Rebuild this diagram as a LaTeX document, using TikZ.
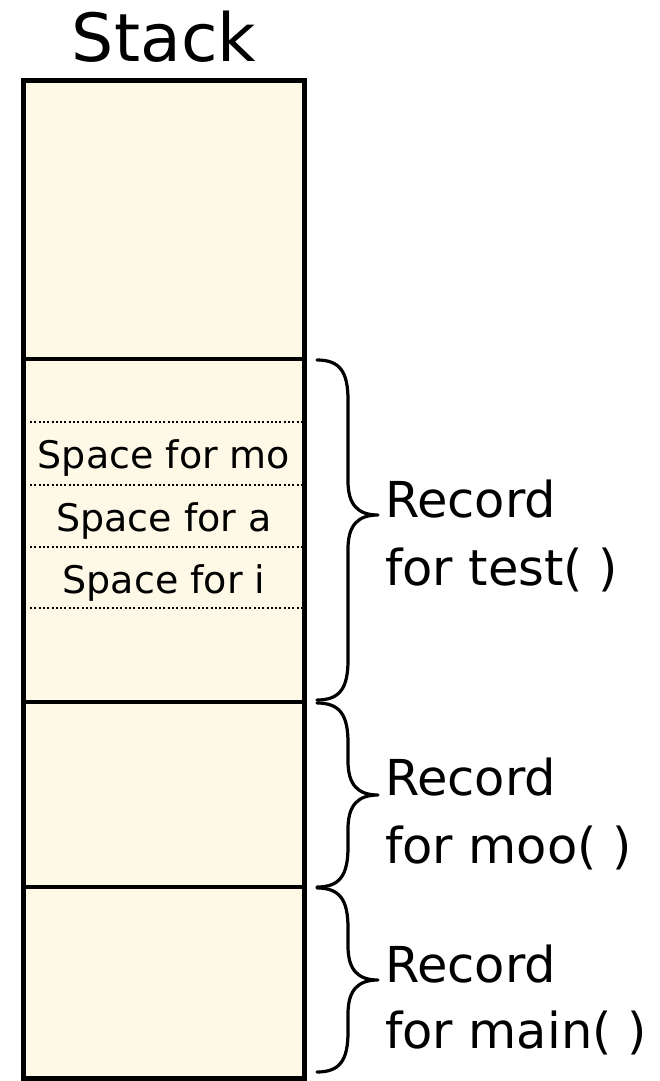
\documentclass[tikz,border=0pt]{standalone}
\usepackage{fontspec}
\setmainfont{DejaVu Sans}
\definecolor{stackfill}{RGB}{254,248,231}
\tikzset{
  lbl/.style={inner sep=0pt, outer sep=0pt, anchor=base west, font=\fontsize{49.5}{58}\selectfont},
  slot/.style={inner sep=0pt, outer sep=0pt, anchor=base, font=\fontsize{38}{46}\selectfont},
  divider/.style={line width=4.5pt},
  dotline/.style={line width=2.2pt, dash pattern=on 2pt off 2.3pt},
  bracestyle/.style={line width=3.2pt, line cap=round, line join=round}
}
\newcommand{\mybrace}[3]{% top, tip, bottom
  \draw[bracestyle] (317,#1) .. controls (340,#1) and (348,#1+12) .. (348,#1+40)
    -- (348,#2-34) .. controls (348,#2-10) and (358,#2) .. (378,#2)
    .. controls (358,#2) and (348,#2+10) .. (348,#2+34)
    -- (348,#3-40) .. controls (348,#3-12) and (340,#3) .. (317,#3);}
\begin{document}
\begin{tikzpicture}[x=1pt,y=-1pt]
\useasboundingbox (0,0) rectangle (660,1081);
% stack body
\fill[stackfill] (23.5,80.5) rectangle (304.5,1078);
\node[inner sep=0pt, anchor=base, font=\fontsize{66.5}{79}\selectfont] (title) at (164,62) {Stack};
% dotted lines
\foreach \yy in {422,485,547,608} \draw[dotline] (30,\yy) -- (302,\yy);
\node[slot] (smo) at (164,468) {Space for mo};
\node[slot] (sa) at (164,531) {Space for a};
\node[slot] (si) at (164,593) {Space for i};
% dividers
\draw[divider] (23.5,359) -- (304.5,359);
\draw[divider] (23.5,702) -- (304.5,702);
\draw[divider] (23.5,887) -- (304.5,887);
\draw[line width=5pt] (23.5,80.5) rectangle (304.5,1078);
% braces
\mybrace{360}{515}{700}
\mybrace{703}{795}{887}
\mybrace{888}{980}{1072}
% labels
\node[lbl] (r1) at (385,517) {Record};
\node[lbl] (f1) at (385,585) {for test( )};
\node[lbl] (r2) at (385,795) {Record};
\node[lbl] (f2) at (385,863) {for moo( )};
\node[lbl] (r3) at (385,982) {Record};
\node[lbl] (f3) at (385,1048) {for main( )};
\end{tikzpicture}
\end{document}
